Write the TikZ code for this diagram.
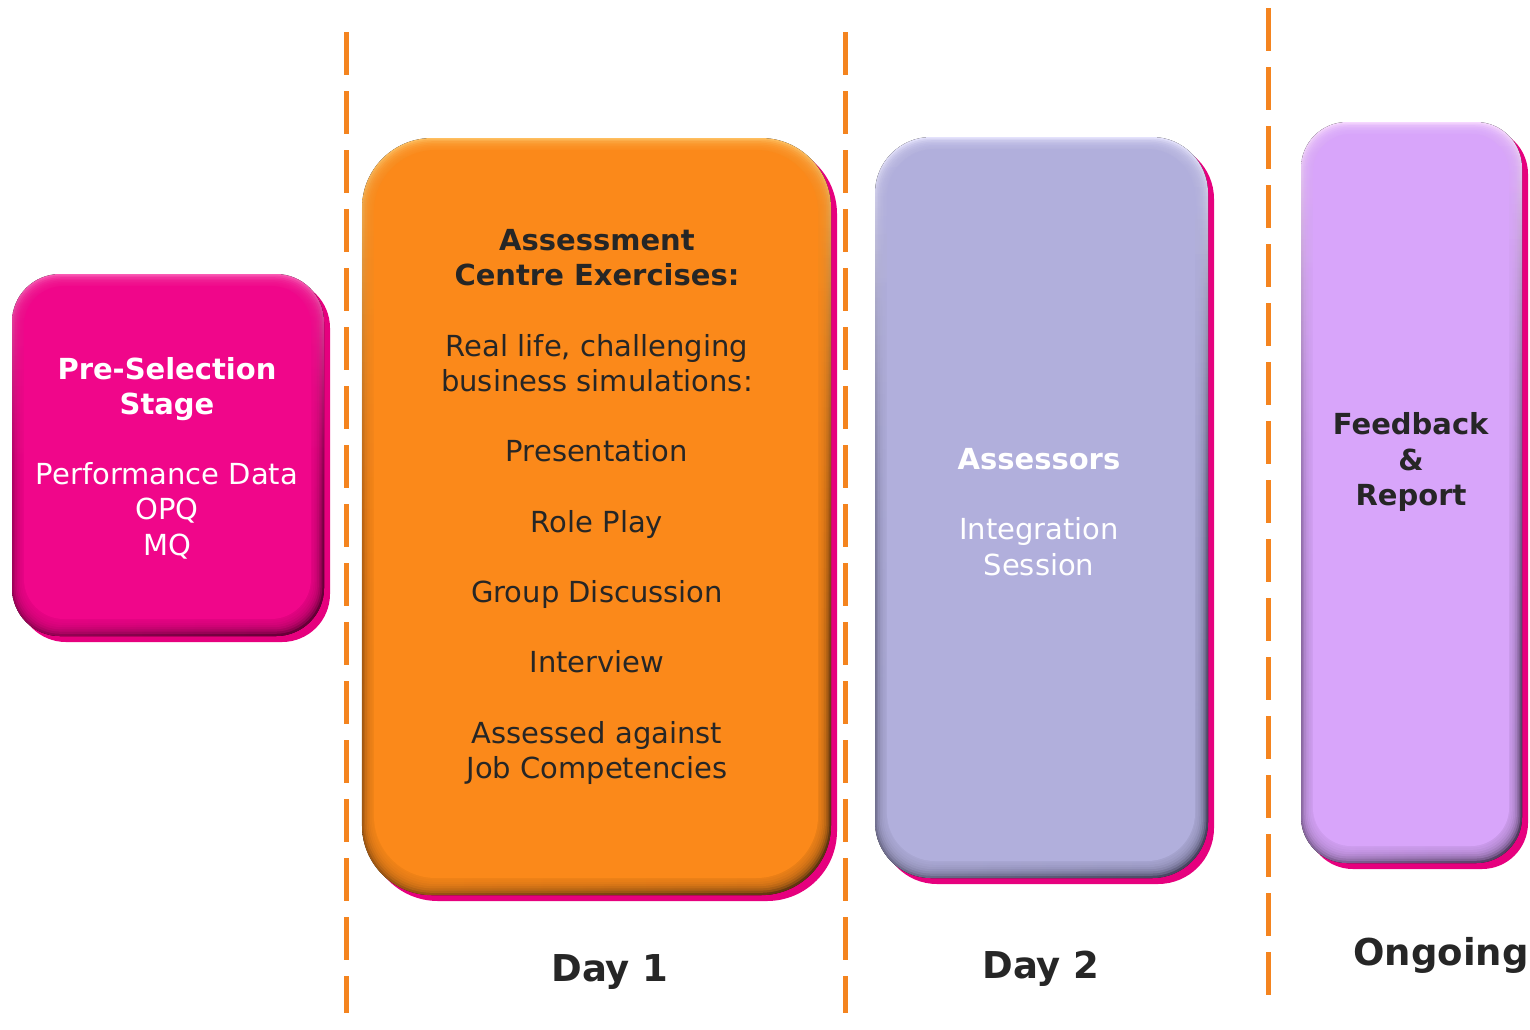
\documentclass[tikz,border=0pt]{standalone}
\usepackage{fontspec}
\usetikzlibrary{fadings}
\setmainfont{DejaVu Sans}

\definecolor{shadowpink}{RGB}{230,0,126}
\definecolor{divider}{RGB}{244,132,31}
\definecolor{ink}{RGB}{38,38,38}

\definecolor{pkmain}{RGB}{240,6,138}
\definecolor{pklight}{RGB}{250,90,180}
\definecolor{pkside}{RGB}{215,5,124}
\definecolor{pkdark}{RGB}{130,0,70}

\definecolor{ormain}{RGB}{251,137,26}
\definecolor{orlight}{RGB}{255,190,95}
\definecolor{orside}{RGB}{222,118,24}
\definecolor{ordark}{RGB}{120,70,22}

\definecolor{lvmain}{RGB}{177,175,220}
\definecolor{lvlight}{RGB}{228,226,252}
\definecolor{lvside}{RGB}{150,148,192}
\definecolor{lvdark}{RGB}{92,90,125}

\definecolor{vimain}{RGB}{216,165,250}
\definecolor{vilight}{RGB}{246,215,255}
\definecolor{viside}{RGB}{178,134,210}
\definecolor{vidark}{RGB}{105,80,125}

% bevelled rounded panel: x1,y1,x2,y2, corner radius, colour prefix
\newcommand\bevelbox[6]{%
  \fill[shadowpink, rounded corners=#5] (#1+6,#2+6) rectangle (#3+6,#4+6);
  \fill[rounded corners=#5, top color=#6light, bottom color=#6dark, middle color=#6side]
       (#1,#2) rectangle (#3,#4);
  \fill[rounded corners=#5, left color=#6main, right color=#6dark, fill opacity=0.55,
        path fading=north]
       (#1,#2) rectangle (#3,#4);
  \foreach \k in {1,...,7}{%
    \fill[#6main, fill opacity=0.28, rounded corners=#5-0.5pt*\k]
         (#1+1.6*\k,#2+1.6*\k) rectangle (#3-1.7*\k,#4-2.2*\k);
  }%
  \fill[#6main, rounded corners=#5-4pt] (#1+12,#2+12) rectangle (#3-13,#4-17);
}

\begin{document}
\begin{tikzpicture}[x=0.5pt, y=-0.5pt,
  body/.style={align=center, inner sep=0pt, font=\fontsize{14.5}{17.6}\selectfont},
  daylabel/.style={inner sep=0pt, text=ink, font=\fontsize{18.5}{22}\selectfont\bfseries},
  divline/.style={divider, line width=2.5pt, dash pattern=on 21.5pt off 8pt}
]
\useasboundingbox (0,0) rectangle (1530,1029);

% dividers between stages
\coordinate (d1top) at (346,32);   \coordinate (d1bot) at (346,1013);
\coordinate (d2top) at (845,32);   \coordinate (d2bot) at (845,1013);
\coordinate (d3top) at (1268,8);   \coordinate (d3bot) at (1268,1007);
\draw[divline] (d1top) -- (d1bot);
\draw[divline] (d2top) -- (d2bot);
\draw[divline] (d3top) -- (d3bot);

% stage panels
\bevelbox{12}{274}{324}{636}{24pt}{pk}
\bevelbox{362}{138}{831}{895}{35pt}{or}
\bevelbox{875}{137}{1208}{878}{28pt}{lv}
\bevelbox{1301}{122}{1522}{863}{23pt}{vi}

% panel texts
\node[body, text=white] (pre) at (167,458)
  {\textbf{Pre-Selection}\\\textbf{Stage}\\~\\Performance Data\\OPQ\\MQ};
\node[body, text=ink] (ace) at (597,507)
  {\textbf{Assessment}\\\textbf{Centre Exercises:}\\~\\Real life, challenging\\business simulations:\\~\\
   Presentation\\~\\Role Play\\~\\Group Discussion\\~\\Interview\\~\\Assessed against\\Job Competencies};
\node[body, text=white] (asr) at (1039,512)
  {\textbf{Assessors}\\~\\Integration\\Session};
\node[body, text=ink] (fbr) at (1411,462)
  {\textbf{Feedback}\\\textbf{\&}\\\textbf{Report}};

% timeline labels
\node[daylabel] (day1) at (610,972) {Day 1};
\node[daylabel] (day2) at (1041,969) {Day 2};
\node[daylabel] (ongo) at (1441,955) {Ongoing};
\end{tikzpicture}
\end{document}
